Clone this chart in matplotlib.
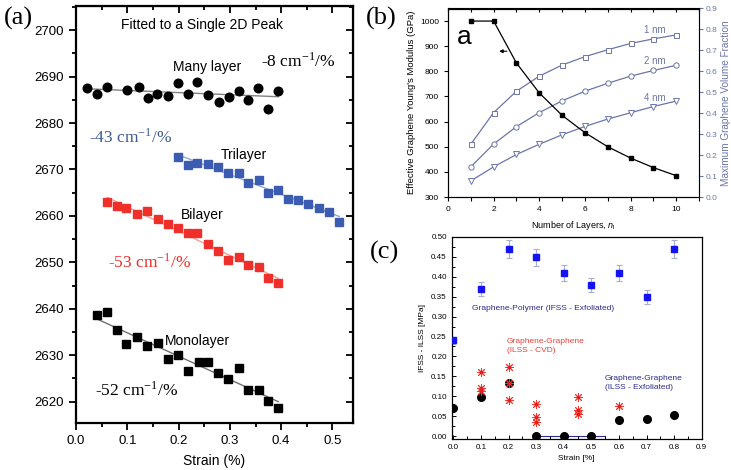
import numpy as np
import matplotlib
matplotlib.use("Agg")
import matplotlib.pyplot as plt
from matplotlib.ticker import MultipleLocator

plt.rcParams['font.family'] = ['Liberation Sans', 'DejaVu Sans']
plt.rcParams['mathtext.fontset'] = 'custom'
plt.rcParams['mathtext.rm'] = 'Liberation Serif'
plt.rcParams['mathtext.it'] = 'Liberation Sans:italic'
SERIF = ['Liberation Serif', 'DejaVu Serif']

# (a) 2D peak position vs strain
many_x = [0.021, 0.041, 0.061, 0.100, 0.122, 0.140, 0.158, 0.179, 0.198, 0.218,
          0.236, 0.258, 0.278, 0.298, 0.317, 0.335, 0.355, 0.375, 0.394]
many_y = [2687.5, 2686.2, 2687.8, 2687.1, 2687.8, 2685.4, 2686.2, 2685.9, 2688.7, 2686.2,
          2688.9, 2686.0, 2684.6, 2685.6, 2686.9, 2684.9, 2687.6, 2683.0, 2686.9]
tri_x = [0.199, 0.218, 0.236, 0.258, 0.276, 0.296, 0.317, 0.336, 0.356, 0.375,
         0.394, 0.414, 0.433, 0.453, 0.474, 0.493, 0.513]
tri_y = [2672.7, 2671.0, 2671.4, 2671.1, 2670.6, 2669.2, 2669.3, 2667.1, 2667.7, 2664.9,
         2665.6, 2663.6, 2663.4, 2662.5, 2661.8, 2660.9, 2658.6]
bi_x = [0.061, 0.079, 0.098, 0.118, 0.139, 0.160, 0.179, 0.199, 0.218, 0.236,
        0.258, 0.276, 0.296, 0.317, 0.336, 0.356, 0.375, 0.394]
bi_y = [2662.9, 2662.1, 2661.6, 2660.5, 2661.1, 2659.3, 2658.2, 2657.5, 2656.4, 2656.4,
        2653.9, 2652.4, 2650.6, 2651.2, 2649.4, 2649.1, 2646.7, 2645.6]
mono_x = [0.040, 0.061, 0.079, 0.098, 0.119, 0.138, 0.159, 0.179, 0.199, 0.218,
          0.239, 0.258, 0.276, 0.296, 0.317, 0.336, 0.356, 0.375, 0.394]
mono_y = [2638.7, 2639.2, 2635.4, 2632.4, 2633.9, 2632.0, 2632.6, 2629.1, 2630.0, 2626.6,
          2628.5, 2628.6, 2626.1, 2624.8, 2627.2, 2622.5, 2622.5, 2620.1, 2618.7]

# (b) modulus and volume fraction vs number of layers
layers = [1, 2, 3, 4, 5, 6, 7, 8, 9, 10]
modulus = [1000, 1000, 833, 714, 625, 556, 500, 455, 417, 385]
vf_1nm = [0.252, 0.403, 0.505, 0.577, 0.630, 0.670, 0.703, 0.733, 0.755, 0.774]
vf_2nm = [0.144, 0.253, 0.336, 0.403, 0.459, 0.505, 0.543, 0.577, 0.604, 0.629]
vf_4nm = [0.077, 0.144, 0.203, 0.252, 0.297, 0.337, 0.372, 0.402, 0.432, 0.458]

# (c) IFSS / ILSS vs strain
poly_x = [0.0, 0.1, 0.2, 0.3, 0.4, 0.5, 0.6, 0.7, 0.8]
poly_y = [0.240, 0.369, 0.470, 0.449, 0.410, 0.380, 0.410, 0.349, 0.470]
poly_err = [0.008, 0.018, 0.023, 0.022, 0.020, 0.018, 0.020, 0.017, 0.023]
exf_x = [0.0, 0.1, 0.2, 0.3, 0.4, 0.5, 0.6, 0.7, 0.8]
exf_y = [0.070, 0.097, 0.134, 0.0, 0.0, 0.0, 0.040, 0.044, 0.053]
cvd_x = [0.1, 0.1, 0.1, 0.2, 0.2, 0.2, 0.3, 0.3, 0.3, 0.45, 0.45, 0.45, 0.6]
cvd_y = [0.160, 0.120, 0.114, 0.174, 0.132, 0.091, 0.080, 0.047, 0.036, 0.099, 0.065, 0.055, 0.075]

W, H = 731, 470
fig = plt.figure(figsize=(W / 100, H / 100), dpi=100)


def box(l, t, r, b):
    return [l / W, 1 - b / H, (r - l) / W, (b - t) / H]


# ---------- (a) ----------
ax = fig.add_axes(box(76, 6, 353, 423))
for xs, ys, lc in [(many_x, many_y, '#808080'), (tri_x, tri_y, '#8ea6d6'),
                   (bi_x, bi_y, '#f0a090'), (mono_x, mono_y, '#707070')]:
    k, c0 = np.polyfit(xs, ys, 1)
    fx = np.array([xs[0], xs[-1]])
    ax.plot(fx, k * fx + c0, color=lc, lw=1.0, zorder=1)
ax.plot(many_x, many_y, 'o', color='black', ms=6.2, zorder=2)
ax.plot(tri_x, tri_y, 's', color='#3b5cb0', ms=5.2, zorder=2)
ax.plot(bi_x, bi_y, 's', color='#ee2f2a', ms=5.4, zorder=2)
ax.plot(mono_x, mono_y, 's', color='black', ms=5.6, zorder=2)
ax.set_xlim(0, 0.54)
ax.set_ylim(2615.4, 2705.2)
ax.xaxis.set_major_locator(MultipleLocator(0.1))
ax.xaxis.set_minor_locator(MultipleLocator(0.05))
ax.yaxis.set_minor_locator(MultipleLocator(5))
ax.set_yticks(np.arange(2620, 2701, 10))
for s in ax.spines.values():
    s.set_linewidth(1.6)
ax.tick_params(which='both', direction='out', width=1.3, labelsize=9.5, top=False, right=False)
ax.tick_params(which='major', length=5)
ax.tick_params(which='minor', length=3)
axt = ax.secondary_xaxis('top')
axt.xaxis.set_major_locator(MultipleLocator(0.1))
axt.xaxis.set_minor_locator(MultipleLocator(0.05))
axt.tick_params(which='both', direction='in', width=1.3, labeltop=False)
axt.tick_params(which='major', length=5)
axt.tick_params(which='minor', length=3)
axr = ax.secondary_yaxis('right')
axr.yaxis.set_major_locator(MultipleLocator(10))
axr.yaxis.set_minor_locator(MultipleLocator(5))
axr.tick_params(which='both', direction='in', width=1.3, labelright=False)
axr.tick_params(which='major', length=5)
axr.tick_params(which='minor', length=3)
ax.set_xlabel('Strain (%)', fontsize=10, labelpad=5)

ax.text(0.087, 2701.2, 'Fitted to a Single 2D Peak', fontsize=10, va='center')
ax.text(0.190, 2692.1, 'Many layer', fontsize=10, va='center')
ax.text(0.283, 2673.2, 'Trilayer', fontsize=10, va='center')
ax.text(0.204, 2660.2, 'Bilayer', fontsize=10, va='center')
ax.text(0.174, 2633.1, 'Monolayer', fontsize=10, va='center')
ax.text(0.360, 2693.2, r'-8 cm$^{\mathrm{-1}}$/%', family=SERIF, fontsize=12.5, va='center', color='black')
ax.text(0.025, 2677.0, r'-43 cm$^{\mathrm{-1}}$/%', family=SERIF, fontsize=12.5, va='center', color='#3d5b8e')
ax.text(0.062, 2649.9, r'-53 cm$^{\mathrm{-1}}$/%', family=SERIF, fontsize=12.5, va='center', color='#ec2b2b')
ax.text(0.038, 2622.4, r'-52 cm$^{\mathrm{-1}}$/%', family=SERIF, fontsize=12.5, va='center', color='black')

# ---------- (b) ----------
vcol = '#6c76a8'
bx = fig.add_axes(box(448, 8.5, 699, 197))
bx.plot(layers, modulus, 's-', color='black', ms=3.2, lw=0.9, zorder=3)
bx.set_xlim(0, 11)
bx.set_ylim(300, 1050)
bx.set_xticks([0, 2, 4, 6, 8, 10])
bx.xaxis.set_minor_locator(MultipleLocator(1))
bx.set_yticks(np.arange(300, 1001, 100))
bx.tick_params(which='both', direction='out', labelsize=6, width=0.8, top=False)
bx.tick_params(which='major', length=3)
bx.tick_params(which='minor', length=3)
bt = bx.secondary_xaxis('top')
bt.xaxis.set_major_locator(MultipleLocator(1))
bt.tick_params(direction='in', length=3, width=0.8, labeltop=False)
bx.set_xlabel('Number of Layers, $n_\\mathregular{l}$', fontsize=6.5, labelpad=4)
bx.set_ylabel("Effective Graphene Young's Modulus (GPa)", fontsize=6.8, labelpad=3)
bx.annotate('', xy=(2.12, 880), xytext=(2.7, 880),
            arrowprops=dict(arrowstyle='-|>', color='black', lw=0.8, mutation_scale=5))
bx.text(0.73, 936, 'a', fontsize=19, ha='center', va='center')

b2 = bx.twinx()
b2.plot(layers, vf_1nm, 's-', color=vcol, mfc='white', mec=vcol, ms=3.6, lw=0.9, mew=0.7)
b2.plot(layers, vf_2nm, 'o-', color=vcol, mfc='white', mec=vcol, ms=3.8, lw=0.9, mew=0.7)
b2.plot(layers, vf_4nm, 'v-', color=vcol, mfc='white', mec=vcol, ms=4.0, lw=0.9, mew=0.7)
b2.set_ylim(0, 0.9)
b2.set_yticks(np.arange(0, 0.91, 0.1))
b2.set_yticklabels(['%.1f' % v for v in np.arange(0, 0.91, 0.1)])
b2.spines['right'].set_color(vcol)
b2.tick_params(axis='y', colors=vcol, labelsize=6, length=3, width=0.8, pad=2)
b2.set_ylabel('Maximum Graphene Volume Fraction', fontsize=7.2, color=vcol, labelpad=2)
bx.set_zorder(b2.get_zorder() + 1)
bx.patch.set_visible(False)
bx.text(9.07, 966, '1 nm', fontsize=7, color=vcol, ha='center', va='center')
bx.text(9.07, 841, '2 nm', fontsize=7, color=vcol, ha='center', va='center')
bx.text(9.05, 693, '4 nm', fontsize=7, color=vcol, ha='center', va='center')

# ---------- (c) ----------
cx = fig.add_axes(box(451.7, 237, 701.7, 439))
cx.errorbar(poly_x, poly_y, yerr=poly_err, fmt='none', ecolor='#a8aed0', elinewidth=0.8,
            capsize=2, capthick=0.8, zorder=2)
cx.plot(poly_x, poly_y, 's', color='#1414f0', ms=5, zorder=3)
cx.plot([0.3, 0.55], [0, 0], color='#2b2b8c', lw=0.8, zorder=1)
cx.plot(exf_x, exf_y, 'o', color='black', ms=5.5, zorder=3)
cx.plot(cvd_x, cvd_y, marker=(8, 2, 0), ls='none', color='#f03a30', ms=6.5, mew=0.7, zorder=4)
cx.plot(cvd_x, cvd_y, marker='s', ls='none', color='#e02020', ms=1.5, zorder=5)
cx.set_xlim(-0.006, 0.9)
cx.set_ylim(-0.0075, 0.5)
cx.set_xticks(np.arange(0, 0.91, 0.1))
cx.xaxis.set_minor_locator(MultipleLocator(0.05))
cx.yaxis.set_major_locator(MultipleLocator(0.05))
cx.yaxis.set_minor_locator(MultipleLocator(0.025))
cx.tick_params(which='both', direction='in', labelsize=5.8, width=0.7, top=False, right=False)
cx.tick_params(which='major', length=3)
cx.tick_params(which='minor', length=2)
for s in cx.spines.values():
    s.set_linewidth(0.9)
cx.set_xlabel('Strain [%]', fontsize=6, labelpad=3)
cx.set_ylabel('IFSS - ILSS [MPa]', fontsize=6, labelpad=4)
cx.text(0.066, 0.321, 'Graphene-Polymer (IFSS - Exfoliated)', fontsize=6, color='#2b2b8c', va='center')
cx.text(0.193, 0.226, 'Graphene-Graphene\n(ILSS - CVD)', fontsize=6, color='#e8403a', va='center',
        linespacing=1.35)
cx.text(0.548, 0.134, 'Graphene-Graphene\n(ILSS - Exfoliated)', fontsize=6, color='#2b2b8c', va='center',
        linespacing=1.35)

# panel letters
fig.text(4 / W, 1 - 18 / H, '(a)', family=SERIF, fontsize=19, va='center')
fig.text(366 / W, 1 - 18 / H, '(b)', family=SERIF, fontsize=19, va='center')
fig.text(370 / W, 1 - 252 / H, '(c)', family=SERIF, fontsize=19, va='center')

fig.savefig('out.png', dpi=100)
